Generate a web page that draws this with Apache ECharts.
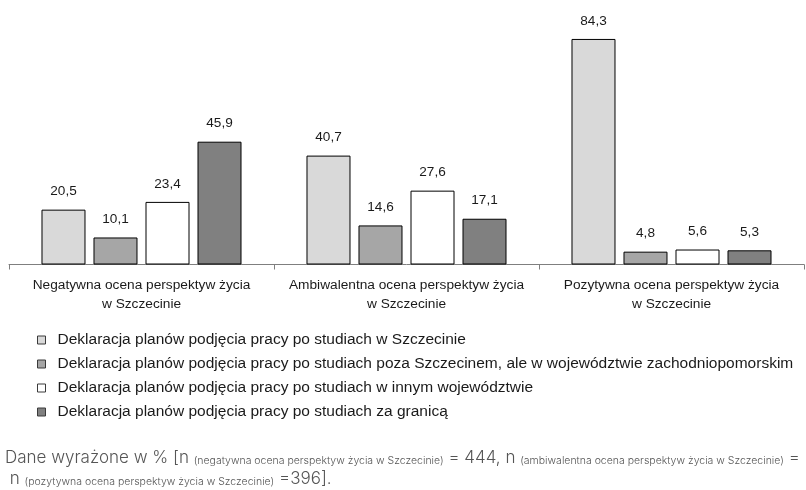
<!DOCTYPE html>
<html><head><meta charset="utf-8">
<script src="https://cdn.jsdelivr.net/npm/echarts@6/dist/echarts.min.js"></script>
<style>html,body{margin:0;padding:0;background:#fff}#c{width:806px;height:490px}</style>
</head><body><div id="c"></div>
<script>
const categories = ['Negatywna ocena perspektyw życia\nw Szczecinie','Ambiwalentna ocena perspektyw życia\nw Szczecinie','Pozytywna ocena perspektyw życia\nw Szczecinie'];
const seriesNames = ['Deklaracja planów podjęcia pracy po studiach w Szczecinie','Deklaracja planów podjęcia pracy po studiach poza Szczecinem, ale w województwie zachodniopomorskim','Deklaracja planów podjęcia pracy po studiach w innym województwie','Deklaracja planów podjęcia pracy po studiach za granicą'];
const inSzczecin = [20.5, 40.7, 84.3];
const inRegion = [10.1, 14.6, 4.8];
const otherRegion = [23.4, 27.6, 5.6];
const abroad = [45.9, 17.1, 5.3];
const colors = ['#d9d9d9','#a6a6a6','#ffffff','#808080'];
const values = [inSzczecin, inRegion, otherRegion, abroad];

const chart = echarts.init(document.getElementById('c'), null, {renderer:'canvas'});
const FONT = 'Liberation Sans, Arial, sans-serif';
const FFONT = 'Inter, Roboto, sans-serif';
chart.setOption({
  animation:false,
  grid:{left:9, width:795, top:23.7, bottom:225.5, containLabel:false},
  xAxis:{type:'category', data:categories,
    axisLine:{lineStyle:{color:'#7f7f7f', width:1}},
    axisTick:{show:true, length:5, lineStyle:{color:'#7f7f7f'}},
    axisLabel:{color:'#1a1a1a', fontFamily:FONT, fontSize:13.7, lineHeight:19, margin:11, interval:0}},
  yAxis:{type:'value', min:0, max:90, show:false, splitLine:{show:false}},
  legend:{orient:'vertical', left:32, top:327, itemWidth:8, itemHeight:8, itemGap:8, icon:'rect',
    data:seriesNames,
    itemStyle:{borderColor:'#3a3a3a', borderWidth:1},
    textStyle:{color:'#1a1a1a', fontFamily:FONT, fontSize:15.5, lineHeight:16, padding:[0,0,0,7]}},
  series: values.map((v,i)=>({
    type:'bar', name:seriesNames[i], data:v, barWidth:44, barGap:'18.2%',
    itemStyle:{color:colors[i], borderColor:'#000', borderWidth:1},
    label:{show:true, position:'top', distance:11, color:'#1a1a1a', fontFamily:FONT, fontSize:13.6,
      formatter:p=>String(p.value).replace('.',',')}
  })),
  graphic:[{type:'text', left:5, top:449, style:{
    text:'{m|Dane wyrażone w % [n }{s|(negatywna ocena perspektyw życia w Szczecinie)}{m| = 444, n }{s|(ambiwalentna ocena perspektyw życia w Szczecinie)}{m| =}\n{m| n }{s|(pozytywna ocena perspektyw życia w Szczecinie)}{m| =396].}',
    rich:{
      m:{fontFamily:FFONT, fontWeight:300, fontSize:17, lineHeight:21, fill:'#555555', verticalAlign:'bottom'},
      s:{fontFamily:FFONT, fontWeight:300, fontSize:10.5, lineHeight:12, fill:'#555555', verticalAlign:'bottom'}
    }}}]
});
</script></body></html>
